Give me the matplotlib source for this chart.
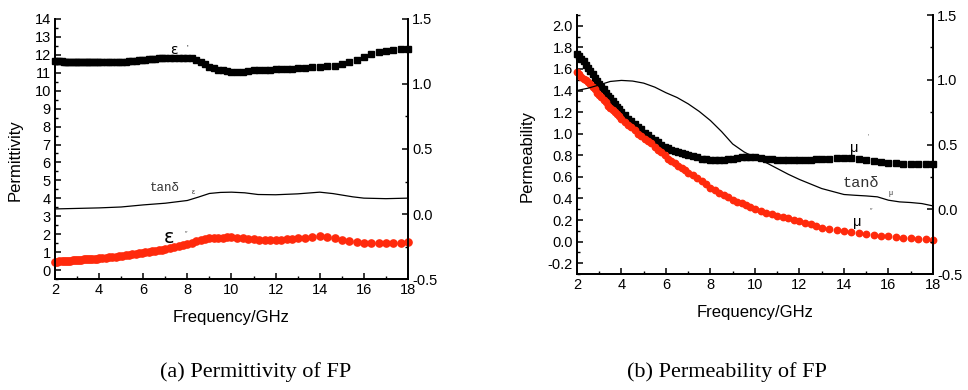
import matplotlib
matplotlib.use("Agg")
import matplotlib.pyplot as plt
from matplotlib.ticker import MultipleLocator

plt.rcParams['font.family'] = ['Liberation Sans', 'DejaVu Sans']

# ---------------- data ----------------
freq = [2.0, 2.1, 2.2, 2.3, 2.4, 2.5, 2.6, 2.7, 2.8, 2.9, 3.0, 3.1, 3.2, 3.3, 3.4, 3.5, 3.6, 3.7, 3.8, 3.9, 4.0,
        4.15, 4.3, 4.45, 4.6, 4.75, 4.9, 5.05, 5.2, 5.35, 5.5, 5.65, 5.8, 5.95, 6.1, 6.25, 6.4, 6.55, 6.7, 6.85, 7.0,
        7.2, 7.4, 7.6, 7.8, 8.0, 8.2, 8.4, 8.6, 8.8, 9.0, 9.2, 9.4, 9.6, 9.8, 10.0,
        10.25, 10.5, 10.75, 11.0, 11.25, 11.5, 11.75, 12.0, 12.25, 12.5, 12.75, 13.0,
        13.33, 13.67, 14.0, 14.33, 14.67, 15.0, 15.33, 15.67, 16.0, 16.33, 16.67, 17.0, 17.33, 17.67, 18.0]

eps_real = [11.66, 11.65, 11.64, 11.63, 11.62, 11.62, 11.61, 11.61, 11.60, 11.60, 11.60, 11.60, 11.59, 11.59, 11.59, 11.59, 11.59, 11.59, 11.59, 11.59, 11.59,
            11.59, 11.59, 11.59, 11.59, 11.60, 11.60, 11.61, 11.62, 11.63, 11.65, 11.67, 11.69, 11.71, 11.73, 11.75, 11.77, 11.79, 11.81, 11.82, 11.83,
            11.83, 11.84, 11.84, 11.84, 11.83, 11.80, 11.73, 11.62, 11.48, 11.34, 11.25, 11.18, 11.13, 11.09, 11.06,
            11.05, 11.07, 11.11, 11.14, 11.16, 11.17, 11.18, 11.19, 11.20, 11.21, 11.23, 11.25,
            11.28, 11.31, 11.33, 11.36, 11.40, 11.48, 11.58, 11.72, 11.90, 12.05, 12.16, 12.23, 12.28, 12.32, 12.34]

eps_imag = [0.46, 0.47, 0.48, 0.49, 0.50, 0.51, 0.52, 0.53, 0.54, 0.55, 0.56, 0.57, 0.58, 0.59, 0.60, 0.60, 0.61, 0.62, 0.63, 0.64, 0.65,
            0.66, 0.68, 0.70, 0.72, 0.74, 0.76, 0.79, 0.82, 0.85, 0.88, 0.91, 0.94, 0.97, 1.00, 1.02, 1.05, 1.08, 1.11, 1.14, 1.17,
            1.21, 1.26, 1.32, 1.38, 1.45, 1.52, 1.60, 1.67, 1.73, 1.77, 1.79, 1.80, 1.81, 1.82, 1.82,
            1.81, 1.78, 1.74, 1.71, 1.69, 1.68, 1.68, 1.69, 1.70, 1.72, 1.74, 1.76,
            1.80, 1.85, 1.88, 1.84, 1.76, 1.67, 1.60, 1.55, 1.52, 1.50, 1.50, 1.50, 1.51, 1.52, 1.54]

mu_real = [1.74, 1.72, 1.69, 1.67, 1.64, 1.61, 1.58, 1.55, 1.52, 1.49, 1.46, 1.43, 1.41, 1.38, 1.35, 1.33, 1.30, 1.28, 1.25, 1.23, 1.20,
           1.17, 1.14, 1.12, 1.09, 1.06, 1.04, 1.01, 0.99, 0.96, 0.94, 0.92, 0.90, 0.88, 0.87, 0.85, 0.84, 0.83, 0.82, 0.81, 0.80,
           0.79, 0.78, 0.77, 0.765, 0.76, 0.755, 0.755, 0.76, 0.765, 0.77, 0.775, 0.78, 0.78, 0.78, 0.78,
           0.775, 0.77, 0.765, 0.76, 0.755, 0.755, 0.755, 0.755, 0.76, 0.76, 0.765, 0.765,
           0.77, 0.775, 0.775, 0.775, 0.765, 0.755, 0.745, 0.735, 0.73, 0.725, 0.72, 0.72, 0.72, 0.72, 0.72]

mu_imag = [1.57, 1.55, 1.53, 1.51, 1.50, 1.48, 1.46, 1.43, 1.41, 1.38, 1.36, 1.34, 1.31, 1.29, 1.26, 1.24, 1.22, 1.20, 1.18, 1.16, 1.14,
           1.11, 1.08, 1.06, 1.03, 1.00, 0.98, 0.95, 0.93, 0.91, 0.88, 0.85, 0.83, 0.80, 0.77, 0.75, 0.73, 0.70, 0.68, 0.66, 0.64,
           0.62, 0.59, 0.56, 0.53, 0.50, 0.48, 0.45, 0.43, 0.41, 0.39, 0.37, 0.355, 0.34, 0.32, 0.30,
           0.285, 0.27, 0.255, 0.24, 0.23, 0.215, 0.20, 0.19, 0.175, 0.16, 0.145, 0.13,
           0.12, 0.11, 0.10, 0.09, 0.08, 0.07, 0.065, 0.055, 0.05, 0.045, 0.035, 0.03, 0.025, 0.02, 0.015]

tan_e_freq = [2, 3, 4, 5, 6, 7, 8, 8.5, 9, 9.5, 10, 10.6, 11.2, 12, 13, 14, 14.6, 15.5, 16, 17, 18]
tan_e = [0.039, 0.043, 0.047, 0.054, 0.070, 0.083, 0.104, 0.130, 0.158, 0.166, 0.168, 0.163, 0.150, 0.148, 0.155, 0.168, 0.157, 0.132, 0.122, 0.118, 0.122]

tan_m_freq = [2, 2.5, 3, 3.5, 4, 4.5, 5, 5.5, 6, 6.5, 7, 7.5, 8, 8.5, 9, 9.5, 10, 10.5, 11, 11.5, 12, 13, 14, 14.5, 15, 15.5, 16, 16.5, 17, 17.5, 18]
tan_m = [0.917, 0.935, 0.960, 0.987, 0.995, 0.990, 0.974, 0.943, 0.900, 0.863, 0.814, 0.755, 0.685, 0.600, 0.504, 0.444, 0.398, 0.360, 0.315, 0.270, 0.230, 0.160, 0.114, 0.108, 0.103, 0.096, 0.070, 0.057, 0.052, 0.044, 0.026]

x_ticks = [2, 4, 6, 8, 10, 12, 14, 16, 18]

RED = '#ff2a0c'
TICKFS = 10.5
LABELFS = 12
MONO = ['Liberation Mono', 'DejaVu Sans Mono']
SERIF = ['Liberation Serif', 'DejaVu Serif']

fig = plt.figure(figsize=(9.68, 3.90), dpi=100)


def style_axes(ax, twin):
    for ax_ in (ax, twin):
        ax_.spines['top'].set_visible(False)
        for s in ('left', 'right', 'bottom'):
            ax_.spines[s].set_linewidth(1.3)
    ax.tick_params(axis='both', which='major', direction='in', length=4, width=1.1, labelsize=TICKFS, pad=3)
    ax.tick_params(axis='both', which='minor', direction='in', length=2.2, width=1.0)
    twin.tick_params(axis='y', which='major', direction='in', length=4, width=1.1, labelsize=TICKFS, pad=3)
    twin.tick_params(axis='y', which='minor', direction='in', length=2.2, width=1.0)
    ax.set_xlim(2, 18)
    ax.set_xticks(x_ticks)
    ax.xaxis.set_minor_locator(MultipleLocator(1))
    twin.set_ylim(-0.5, 1.5)
    twin.yaxis.set_major_locator(MultipleLocator(0.5))
    twin.yaxis.set_minor_locator(MultipleLocator(0.25))
    twin.set_yticklabels([f"{v:.1f}" for v in twin.get_yticks()])


# ---------------- (a) permittivity ----------------
ax1 = fig.add_axes([0.0568, 0.2846, 0.3647, 0.6667])
ax1t = ax1.twinx()
ax1.plot(freq, eps_real, linestyle='none', marker='s', ms=4.4, color='black', mec='black', clip_on=False, zorder=3)
ax1.plot(freq, eps_imag, linestyle='none', marker='o', ms=5.2, color=RED, mec=RED, clip_on=False, zorder=3)
ax1t.plot(tan_e_freq, tan_e, color='black', lw=0.9)
ax1.set_ylim(-0.5, 14)
ax1.yaxis.set_major_locator(MultipleLocator(1))
ax1.yaxis.set_minor_locator(MultipleLocator(0.5))
style_axes(ax1, ax1t)
ax1.set_ylabel('Permittivity', fontsize=LABELFS)
ax1.yaxis.set_label_coords(-0.092, 0.458)
ax1.set_xlabel('Frequency/GHz', fontsize=LABELFS, labelpad=9)

ax1.text(7.2, 12.25, 'ε', fontsize=10, color='black', ha='left', va='center', family=['DejaVu Sans'])
ax1.text(7.95, 12.4, "'", fontsize=6, color='black', ha='left', va='center')
ax1.text(6.3, 4.6, 'tanδ', fontsize=9, color='#333333', ha='left', va='center', family=MONO)
ax1.text(8.2, 4.35, 'ε', fontsize=5, color='#333333', ha='left', va='center')
ax1.text(6.95, 1.8, 'ε', fontsize=14, color='black', ha='left', va='center', family=['DejaVu Sans'])
ax1.text(7.9, 2.05, '″', fontsize=5, color='#555555', ha='left', va='center')

# ---------------- (b) permeability ----------------
ax2 = fig.add_axes([0.596, 0.2974, 0.3678, 0.6641])
ax2t = ax2.twinx()
ax2.plot(freq, mu_real, linestyle='none', marker='s', ms=3.8, color='black', mec='black', clip_on=False, zorder=3)
ax2.plot(freq, mu_imag, linestyle='none', marker='o', ms=4.6, color=RED, mec=RED, clip_on=False, zorder=3)
ax2t.plot(tan_m_freq, tan_m, color='black', lw=0.9)
ax2.set_ylim(-0.3, 2.1)
ax2.yaxis.set_minor_locator(MultipleLocator(0.1))
style_axes(ax2, ax2t)
ax2.set_yticks([-0.2, 0.0, 0.2, 0.4, 0.6, 0.8, 1.0, 1.2, 1.4, 1.6, 1.8, 2.0])
ax2.set_yticklabels([f"{v:.1f}" for v in ax2.get_yticks()])
ax2.set_ylabel('Permeability', fontsize=LABELFS)
ax2.yaxis.set_label_coords(-0.118, 0.456)
ax2.set_xlabel('Frequency/GHz', fontsize=LABELFS, labelpad=9)

ax2.text(14.25, 0.87, 'μ', fontsize=10.5, color='black', ha='left', va='center')
ax2.text(15.05, 0.97, "'", fontsize=5, color='#555555', ha='left', va='center')
ax2.text(13.95, 0.54, 'tanδ', fontsize=11, color='#333333', ha='left', va='center', family=MONO)
ax2.text(16.0, 0.45, 'μ', fontsize=5, color='#333333', ha='left', va='center')
ax2.text(14.4, 0.18, 'μ', fontsize=10.5, color='black', ha='left', va='center')
ax2.text(15.15, 0.29, '″', fontsize=5, color='#555555', ha='left', va='center')

# ---------------- captions ----------------
fig.text(256 / 968, 1 - 372 / 390, '(a) Permittivity of FP', ha='center', va='center',
         fontsize=16, family=SERIF)
fig.text(727 / 968, 1 - 372 / 390, '(b) Permeability of FP', ha='center', va='center',
         fontsize=16, family=SERIF)

fig.savefig('out.png', dpi=100)
